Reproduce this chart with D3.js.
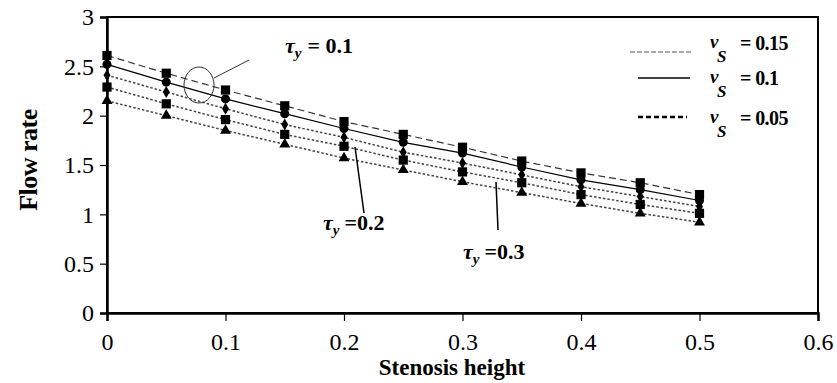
<!DOCTYPE html>
<html>
<head>
<meta charset="utf-8">
<script src="https://cdn.jsdelivr.net/npm/d3@7"></script>
<style>
  body { margin: 0; background: #fff; }
  svg { display: block; }
  svg text { font-family: 'Liberation Serif', 'Times New Roman', serif; }
</style>
</head>
<body>
<div id="app"></div>
<script>
const heights = [0, 0.05, 0.1, 0.15, 0.2, 0.25, 0.3, 0.35, 0.4, 0.45, 0.5]

const vs015tau01 = [2.61, 2.43, 2.26, 2.10, 1.94, 1.81, 1.68, 1.54, 1.42, 1.32, 1.20]
const vs01tau01 = [2.52, 2.34, 2.17, 2.02, 1.87, 1.73, 1.62, 1.48, 1.35, 1.25, 1.14]
const vs005tau01 = [2.41, 2.24, 2.07, 1.91, 1.78, 1.63, 1.52, 1.40, 1.28, 1.18, 1.08]
const vs005tau02 = [2.29, 2.12, 1.96, 1.81, 1.69, 1.55, 1.43, 1.32, 1.20, 1.10, 1.01]
const vs005tau03 = [2.15, 2.00, 1.85, 1.71, 1.57, 1.45, 1.33, 1.22, 1.11, 1.01, 0.92]

const xTicks = [0, 0.1, 0.2, 0.3, 0.4, 0.5, 0.6]
const yTicks = [0, 0.5, 1, 1.5, 2, 2.5, 3]
const legendLabels = ['0.15', '0.1', '0.05']

const W = 837
const H = 383
const margin = { left: 107, top: 17, right: 19, bottom: 70 }
const pw = W - margin.left - margin.right
const ph = H - margin.top - margin.bottom

const svg = d3.select('#app').append('svg')
  .attr('width', W).attr('height', H)
  .attr('font-family', 'Liberation Serif')
const g = svg.append('g').attr('transform', `translate(${margin.left},${margin.top})`)

const x = d3.scaleLinear().domain([0, 0.6]).range([0, pw])
const y = d3.scaleLinear().domain([0, 3]).range([ph, 0])

// frame
g.append('rect')
  .attr('width', pw).attr('height', ph)
  .attr('fill', 'none').attr('stroke', '#000').attr('stroke-width', 2)

const yAxis = g.append('g')
  .call(d3.axisLeft(y).tickValues(yTicks).tickFormat(d3.format('')).tickSize(7).tickPadding(6))
const xAxis = g.append('g').attr('transform', `translate(0,${ph})`)
  .call(d3.axisBottom(x).tickValues(xTicks).tickFormat(d3.format('')).tickSize(8).tickPadding(12))

;[yAxis, xAxis].forEach((ax) => {
  ax.attr('font-family', 'Liberation Serif')
  ax.select('.domain').attr('stroke-width', 2.5)
  ax.selectAll('.tick line').attr('stroke-width', 1.2)
  ax.selectAll('.tick text')
    .attr('font-size', 24)
    .attr('fill', '#000')
})

const series = [
  { values: vs015tau01, dash: '7,4', color: '#333', width: 1.2, marker: 'square' },
  { values: vs01tau01, dash: null, color: '#000', width: 1.2, marker: 'circle' },
  { values: vs005tau01, dash: '2.5,2', color: '#444', width: 1.5, marker: 'diamond' },
  { values: vs005tau02, dash: '2.5,2', color: '#444', width: 1.5, marker: 'square' },
  { values: vs005tau03, dash: '2.5,2', color: '#444', width: 1.5, marker: 'triangle' },
]

const symbols = {
  square: d3.symbol().type(d3.symbolSquare).size(85),
  circle: d3.symbol().type(d3.symbolCircle).size(64),
  diamond: d3.symbol().type(d3.symbolDiamond).size(42),
  triangle: d3.symbol().type(d3.symbolTriangle).size(52),
}

const line = d3.line().x((d) => x(d[0])).y((d) => y(d[1]))

series.forEach((s) => {
  const pts = heights.map((h, i) => [h, s.values[i]])
  g.append('path')
    .attr('d', line(pts))
    .attr('fill', 'none')
    .attr('stroke', s.color)
    .attr('stroke-width', s.width)
    .attr('stroke-dasharray', s.dash)
  g.selectAll(null).data(pts).enter().append('path')
    .attr('d', symbols[s.marker])
    .attr('transform', (d) => `translate(${x(d[0])},${y(d[1])})`)
    .attr('fill', '#000')
})

// axis titles
svg.append('text')
  .attr('x', 452).attr('y', 375)
  .attr('text-anchor', 'middle')
  .attr('font-size', 23).attr('font-weight', 'bold')
  .text('Stenosis height')

svg.append('text')
  .attr('transform', 'translate(37,160) rotate(-90)')
  .attr('text-anchor', 'middle')
  .attr('font-size', 26).attr('font-weight', 'bold')
  .attr('letter-spacing', -0.5)
  .text('Flow rate')

// tau labels
const tauLabel = (tx, ty, txt, gap) => {
  const t = svg.append('text').attr('x', tx).attr('y', ty)
    .attr('font-size', 22).attr('font-weight', 'bold')
  t.append('tspan').attr('font-style', 'italic').text('τ')
  t.append('tspan').attr('font-style', 'italic').attr('font-size', 15).attr('dy', 5).text('y')
  t.append('tspan').attr('dy', -5).attr('dx', gap).text(txt)
}
tauLabel(285, 53, '= 0.1', 6)
tauLabel(323, 230, '=0.2', 5)
tauLabel(463, 259, '=0.3', 5)

svg.append('ellipse')
  .attr('cx', 199).attr('cy', 85).attr('rx', 15).attr('ry', 18)
  .attr('fill', 'none').attr('stroke', '#333').attr('stroke-width', 1)
svg.append('line')
  .attr('x1', 214).attr('y1', 78).attr('x2', 249).attr('y2', 60)
  .attr('stroke', '#333').attr('stroke-width', 1)
svg.append('line')
  .attr('x1', 355).attr('y1', 147).attr('x2', 364).attr('y2', 213)
  .attr('stroke', '#000').attr('stroke-width', 1.5)
svg.append('line')
  .attr('x1', 496).attr('y1', 182).attr('x2', 498).attr('y2', 230)
  .attr('stroke', '#000').attr('stroke-width', 1.5)

// legend
const legendStyles = [
  { x1: 630, x2: 692, ly: 52, dash: '5,2', color: '#555', width: 1, ty: 48 },
  { x1: 638, x2: 690, ly: 78, dash: null, color: '#000', width: 1.5, ty: 83 },
  { x1: 638, x2: 687, ly: 117, dash: '5,3', color: '#000', width: 2.5, ty: 123 },
]
legendLabels.forEach((lab, i) => {
  const st = legendStyles[i]
  svg.append('line')
    .attr('x1', st.x1).attr('x2', st.x2).attr('y1', st.ly).attr('y2', st.ly)
    .attr('stroke', st.color).attr('stroke-width', st.width)
    .attr('stroke-dasharray', st.dash)
  svg.append('text').attr('x', 710).attr('y', st.ty)
    .attr('font-size', 19).attr('font-weight', 'bold').attr('font-style', 'italic')
    .text('v')
  svg.append('text').attr('x', 717).attr('y', st.ty + 14)
    .attr('font-size', 17).attr('font-weight', 'bold').attr('font-style', 'italic')
    .text('S')
  svg.append('text').attr('x', 740).attr('y', st.ty + 2)
    .attr('font-size', 20).attr('font-weight', 'bold')
    .attr('letter-spacing', -0.6)
    .text('= ' + lab)
})
</script>
</body>
</html>
